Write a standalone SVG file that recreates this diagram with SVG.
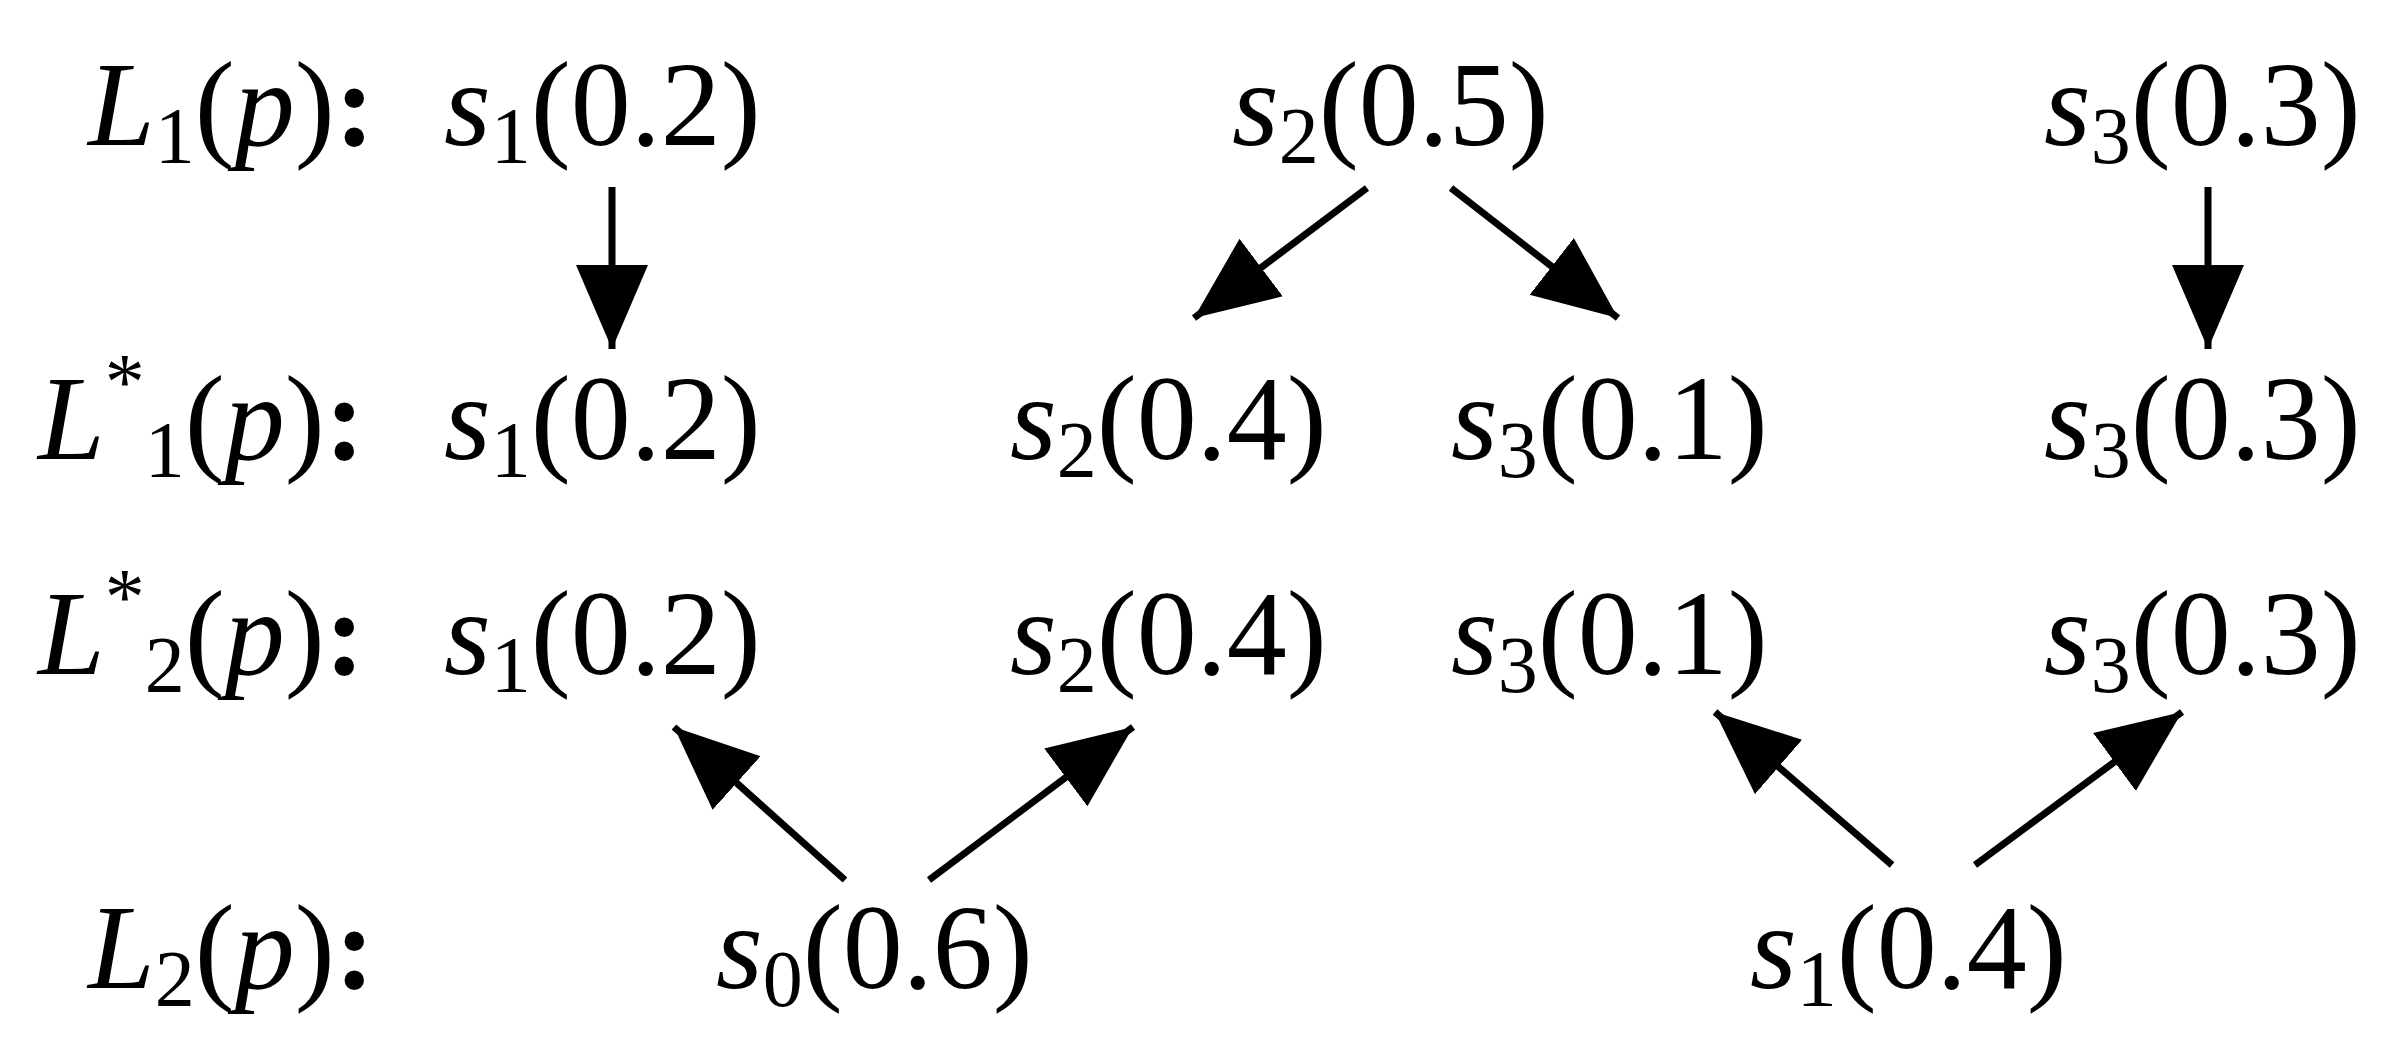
<svg xmlns="http://www.w3.org/2000/svg" width="2401" height="1043" viewBox="0 0 2401 1043">
<style>
text{font-family:"Liberation Serif","Times New Roman",serif;font-size:120px;fill:#000}
.i{font-style:italic}
.sub{font-size:80px}
.c{font-weight:bold}
line{stroke:#000;stroke-width:7}
</style>
<defs>
<marker id="ah" markerUnits="userSpaceOnUse" markerWidth="90" markerHeight="80" refX="84" refY="36" orient="auto">
<path d="M0,0 L84,36 L0,72 Z" fill="#000"/>
</marker>
</defs>
<rect width="2401" height="1043" fill="#fff"/>
<g id="labels">
<text x="88" y="145"><tspan class="i">L</tspan><tspan class="sub" dy="18">1</tspan><tspan dy="-18">(</tspan><tspan class="i">p</tspan>)<tspan class="c">:</tspan></text>
<text x="38" y="459"><tspan class="i">L</tspan><tspan class="sub" dy="-50">*</tspan><tspan class="sub" dy="68">1</tspan><tspan dy="-18">(</tspan><tspan class="i">p</tspan>)<tspan class="c">:</tspan></text>
<text x="38" y="674"><tspan class="i">L</tspan><tspan class="sub" dy="-50">*</tspan><tspan class="sub" dy="68">2</tspan><tspan dy="-18">(</tspan><tspan class="i">p</tspan>)<tspan class="c">:</tspan></text>
<text x="88" y="988"><tspan class="i">L</tspan><tspan class="sub" dy="18">2</tspan><tspan dy="-18">(</tspan><tspan class="i">p</tspan>)<tspan class="c">:</tspan></text>
</g>
<g id="n_L1_s1"><text x="444" y="145"><tspan class="i">s</tspan><tspan class="sub" dy="18">1</tspan><tspan dy="-18">(0.2)</tspan></text></g>
<g id="n_L1_s2"><text x="1232" y="145"><tspan class="i">s</tspan><tspan class="sub" dy="18">2</tspan><tspan dy="-18">(0.5)</tspan></text></g>
<g id="n_L1_s3"><text x="2044" y="145"><tspan class="i">s</tspan><tspan class="sub" dy="18">3</tspan><tspan dy="-18">(0.3)</tspan></text></g>
<g id="n_A_s1"><text x="444" y="459"><tspan class="i">s</tspan><tspan class="sub" dy="18">1</tspan><tspan dy="-18">(0.2)</tspan></text></g>
<g id="n_A_s2"><text x="1010" y="459"><tspan class="i">s</tspan><tspan class="sub" dy="18">2</tspan><tspan dy="-18">(0.4)</tspan></text></g>
<g id="n_A_s3a"><text x="1451" y="459"><tspan class="i">s</tspan><tspan class="sub" dy="18">3</tspan><tspan dy="-18">(0.1)</tspan></text></g>
<g id="n_A_s3b"><text x="2044" y="459"><tspan class="i">s</tspan><tspan class="sub" dy="18">3</tspan><tspan dy="-18">(0.3)</tspan></text></g>
<g id="n_B_s1"><text x="444" y="674"><tspan class="i">s</tspan><tspan class="sub" dy="18">1</tspan><tspan dy="-18">(0.2)</tspan></text></g>
<g id="n_B_s2"><text x="1010" y="674"><tspan class="i">s</tspan><tspan class="sub" dy="18">2</tspan><tspan dy="-18">(0.4)</tspan></text></g>
<g id="n_B_s3a"><text x="1451" y="674"><tspan class="i">s</tspan><tspan class="sub" dy="18">3</tspan><tspan dy="-18">(0.1)</tspan></text></g>
<g id="n_B_s3b"><text x="2044" y="674"><tspan class="i">s</tspan><tspan class="sub" dy="18">3</tspan><tspan dy="-18">(0.3)</tspan></text></g>
<g id="n_L2_s0"><text x="716" y="988"><tspan class="i">s</tspan><tspan class="sub" dy="18">0</tspan><tspan dy="-18">(0.6)</tspan></text></g>
<g id="n_L2_s1"><text x="1750" y="988"><tspan class="i">s</tspan><tspan class="sub" dy="18">1</tspan><tspan dy="-18">(0.4)</tspan></text></g>
<g id="connectors" marker-end="url(#ah)">
<line x1="612" y1="187" x2="612" y2="349"/>
<line x1="1367" y1="188" x2="1194" y2="318"/>
<line x1="1451" y1="188" x2="1618" y2="318"/>
<line x1="2208" y1="187" x2="2208" y2="349"/>
<line x1="845" y1="880" x2="674" y2="727"/>
<line x1="929" y1="880" x2="1133" y2="727"/>
<line x1="1892" y1="865" x2="1715" y2="712"/>
<line x1="1975" y1="865" x2="2182" y2="712"/>
</g>
</svg>
